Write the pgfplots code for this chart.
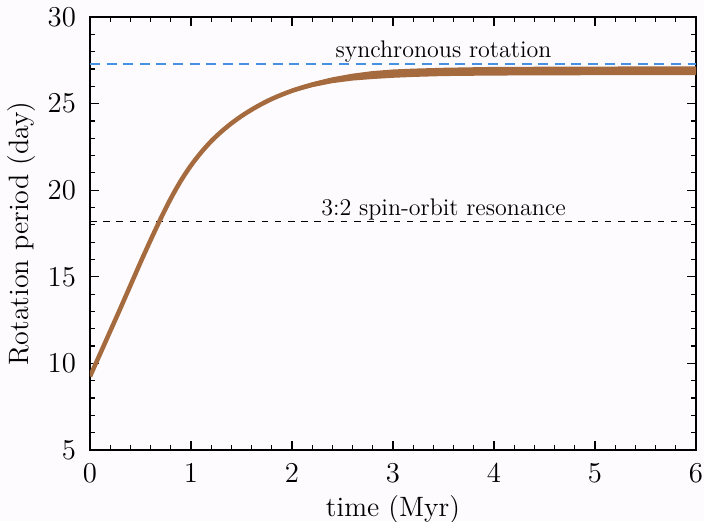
\documentclass[border=0pt]{standalone}
\usepackage{pgfplots}
\pgfplotsset{compat=1.18}
\definecolor{bgc}{RGB}{253,251,253}
\definecolor{curve}{RGB}{165,106,62}
\definecolor{syncblue}{RGB}{70,145,225}
\begin{document}
\begin{tikzpicture}
\fill[bgc] (-45pt,-35.5pt) rectangle (307pt,225pt);
\begin{axis}[
  at={(0,0)}, anchor=south west,
  scale only axis,
  width=303pt, height=216.5pt,
  xmin=0, xmax=6, ymin=5, ymax=30,
  xtick={0,1,2,3,4,5,6},
  ytick={5,10,15,20,25,30},
  minor x tick num=4,
  minor y tick num=4,
  tick align=inside,
  major tick length=4.5pt,
  minor tick length=2.5pt,
  axis line style={line width=0.8pt},
  every tick/.style={black, line width=0.6pt},
  tick label style={font=\fontsize{14}{16}\selectfont},
  xticklabel shift=3.5pt,
  yticklabel shift=3.5pt,
  label style={font=\fontsize{14}{16}\selectfont},
  xlabel={time (Myr)},
  ylabel={Rotation period (day)},
  xlabel style={at={(axis description cs:0.5,0)}, anchor=center, yshift=-29.5pt},
  ylabel style={at={(axis description cs:0,0.5)}, anchor=center, yshift=34pt},
]
% synchronous rotation
\addplot[syncblue, line width=0.8pt, dash pattern=on 5pt off 3.3pt] coordinates {(0,27.3) (6,27.3)};
% 3:2 resonance
\addplot[black, line width=0.7pt, dash pattern=on 3.3pt off 3.3pt] coordinates {(0,18.2) (6,18.2)};
% oscillation envelope
\addplot[draw=none, fill=curve] coordinates {
(1.0,21.43) (1.2,22.84) (1.4,23.89) (1.6,24.70) (1.8,25.35) (2.0,25.85) (2.2,26.23) (2.4,26.52) (2.6,26.73) (2.8,26.88) (3.0,26.97) (3.2,27.02) (3.5,27.07) (4.0,27.12) (5.0,27.14) (6.0,27.15)
(6.0,26.65) (5.0,26.64) (4.0,26.62) (3.5,26.59) (3.2,26.54) (3.0,26.49) (2.8,26.42) (2.6,26.33) (2.4,26.18) (2.2,25.95) (2.0,25.63) (1.8,25.19) (1.6,24.60) (1.4,23.83) (1.2,22.82) (1.0,21.43)
} -- cycle;
% rotation period
\addplot[curve, line width=2.25pt, smooth, line join=round] coordinates {
(0,9.25) (0.1,10.55) (0.2,11.86) (0.3,13.17) (0.4,14.5) (0.5,15.83) (0.6,17.12) (0.7,18.36) (0.8,19.52) (0.9,20.55) (1.0,21.43) (1.1,22.18) (1.2,22.83) (1.3,23.38) (1.4,23.86) (1.5,24.28) (1.6,24.65) (1.7,24.98) (1.8,25.27) (1.9,25.52) (2.0,25.74) (2.1,25.93) (2.2,26.09) (2.3,26.23) (2.4,26.35) (2.5,26.45) (2.6,26.53) (2.8,26.65) (3.0,26.73) (3.2,26.78) (3.5,26.83) (4.0,26.87) (5.0,26.89) (6.0,26.9)
};
\node[anchor=base, font=\fontsize{12}{14}\selectfont] at (axis cs:3.5,27.3) [yshift=3pt] {synchronous rotation};
\node[anchor=base, font=\fontsize{12}{14}\selectfont] at (axis cs:3.5,18.2) [yshift=3pt] {3:2 spin-orbit resonance};
\end{axis}
\pgfresetboundingbox
\path (-45pt,-35.5pt) rectangle (307pt,225pt);
\end{tikzpicture}
\end{document}
